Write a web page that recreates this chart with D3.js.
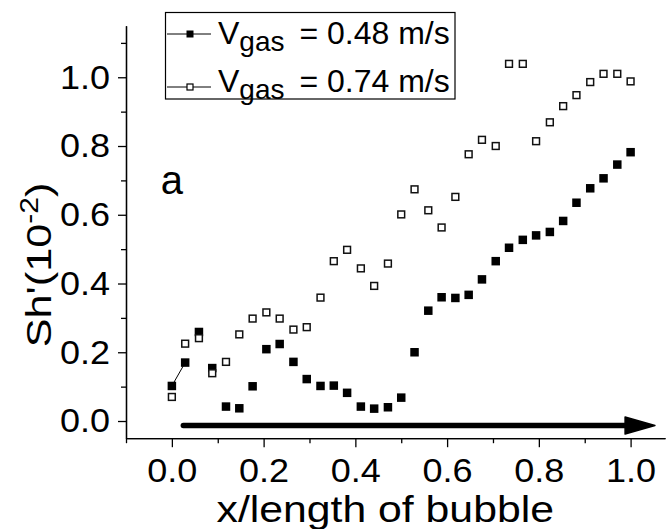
<!DOCTYPE html>
<html lang="en">
<head>
    <meta charset="UTF-8">
    <script src="https://cdn.jsdelivr.net/npm/d3@7"></script>
    <title>Sh' along the bubble</title>
    <style>
        body { margin: 0; background: #ffffff; }
        svg { display: block; background: #ffffff; }
        text { font-family: Arial, "Liberation Sans", sans-serif; fill: #000; }
        .axis path, .axis line { stroke: #000; stroke-width: 1.3px; }
    </style>
</head>
<body>
<svg width="668" height="529" viewBox="0 0 668 529"></svg>

<script>
    const WIDTH = 668;
    const HEIGHT = 529;
    const PLOT_LEFT = 126;
    const PLOT_RIGHT = 665;
    const PLOT_TOP = 25.7;
    const PLOT_BOTTOM = 438.2;

    // position along the bubble (x / length)
    const xPos = [0, 0.029, 0.059, 0.088, 0.118, 0.147, 0.176, 0.206, 0.235, 0.265,
        0.294, 0.324, 0.353, 0.382, 0.412, 0.441, 0.471, 0.5, 0.529, 0.559,
        0.588, 0.618, 0.647, 0.676, 0.706, 0.735, 0.765, 0.794, 0.824, 0.853,
        0.882, 0.912, 0.941, 0.971, 1.0];

    // Sh' (10^-2), Vgas = 0.48 m/s
    const sh048 = [0.102, 0.170, 0.259, 0.154, 0.042, 0.037, 0.101, 0.209, 0.224, 0.172,
        0.122, 0.102, 0.103, 0.082, 0.042, 0.036, 0.040, 0.068, 0.200, 0.321,
        0.360, 0.358, 0.367, 0.412, 0.465, 0.504, 0.527, 0.540, 0.550, 0.582,
        0.635, 0.677, 0.706, 0.746, 0.782];

    // Sh' (10^-2), Vgas = 0.74 m/s
    const sh074 = [0.070, 0.225, 0.241, 0.139, 0.172, 0.252, 0.298, 0.316, 0.298, 0.266,
        0.273, 0.359, 0.465, 0.498, 0.444, 0.393, 0.458, 0.601, 0.674, 0.613,
        0.563, 0.652, 0.776, 0.818, 0.800, 1.039, 1.039, 0.814, 0.869, 0.916,
        0.948, 0.986, 1.010, 1.010, 0.988];

    const xTicks = [0, 0.2, 0.4, 0.6, 0.8, 1.0];
    const xMinorTicks = [-0.1, 0.1, 0.3, 0.5, 0.7, 0.9];
    const yTicks = [0, 0.2, 0.4, 0.6, 0.8, 1.0];
    const yMinorTicks = [0.1, 0.3, 0.5, 0.7, 0.9, 1.1];

    const legendLabels = ["0.48 m/s", "0.74 m/s"];

    // arrow along the bottom: start, head base, tip (data units)
    const arrowX = [0.025, 0.988, 1.053];
    const arrowY = -0.013;

    function init() {
        const svg = d3.select("svg");
        const [x, y] = makeScales();
        drawAxes(svg, x, y);
        drawArrow(svg, x, y);
        drawPoints(svg, x, y);
        drawLegend(svg);
        drawTitles(svg, x, y);
    }

    function makeScales() {
        const x = d3.scaleLinear()
            .domain([-0.1, 1.075])
            .range([PLOT_LEFT, PLOT_RIGHT]);
        const y = d3.scaleLinear()
            .domain([-0.05, 1.15])
            .range([PLOT_BOTTOM, PLOT_TOP]);
        return [x, y];
    }

    function drawAxes(svg, x, y) {
        const fmt = d3.format(".1f");

        // minor ticks first, no labels
        svg.append("g")
            .attr("class", "axis")
            .attr("transform", `translate(0, ${PLOT_BOTTOM})`)
            .call(d3.axisBottom(x).tickValues(xMinorTicks).tickSize(5).tickSizeOuter(0).tickFormat(""));
        svg.append("g")
            .attr("class", "axis")
            .attr("transform", `translate(${PLOT_LEFT}, 0)`)
            .call(d3.axisLeft(y).tickValues(yMinorTicks).tickSize(5).tickSizeOuter(0).tickFormat(""));

        const gx = svg.append("g")
            .attr("class", "axis bottom")
            .attr("transform", `translate(0, ${PLOT_BOTTOM})`)
            .call(d3.axisBottom(x).tickValues(xTicks).tickSize(9).tickSizeOuter(0).tickFormat(fmt));
        gx.selectAll("text")
            .attr("y", 19.5)
            .attr("transform", "scale(1.06,1)")
            .style("font-size", "34px");

        const gy = svg.append("g")
            .attr("class", "axis left")
            .attr("transform", `translate(${PLOT_LEFT}, 0)`)
            .call(d3.axisLeft(y).tickValues(yTicks).tickSize(8).tickSizeOuter(0).tickFormat(fmt));
        gy.selectAll("text")
            .attr("x", -15)
            .attr("transform", "scale(1.06,1)")
            .style("font-size", "34px");
    }

    function drawArrow(svg, x, y) {
        const ay = y(arrowY);
        svg.append("line")
            .attr("x1", x(arrowX[0]))
            .attr("x2", x(arrowX[1]) + 2)
            .attr("y1", ay)
            .attr("y2", ay)
            .style("stroke", "#000")
            .style("stroke-width", 5.5)
            .style("stroke-linecap", "round");
        svg.append("path")
            .attr("d", `M${x(arrowX[1])},${ay - 8.5} L${x(arrowX[2])},${ay} L${x(arrowX[1])},${ay + 8.5} Z`)
            .style("fill", "#000")
            .style("stroke", "#000")
            .style("stroke-width", 1.5)
            .style("stroke-linejoin", "round");
    }

    function drawPoints(svg, x, y) {
        const filled = xPos.map((d, i) => ({x: d, y: sh048[i]}));
        const open = xPos.map((d, i) => ({x: d, y: sh074[i]}));

        // the one bit of connecting line visible in the original
        svg.append("path")
            .datum(filled.slice(0, 2))
            .attr("d", d3.line().x(d => x(d.x)).y(d => y(d.y)))
            .style("stroke", "#000")
            .style("stroke-width", 1)
            .style("fill", "none");

        const s1 = 8.5;
        svg.append("g").selectAll("rect")
            .data(filled)
            .enter()
            .append("rect")
            .attr("x", d => x(d.x) - s1 / 2)
            .attr("y", d => y(d.y) - s1 / 2)
            .attr("width", s1)
            .attr("height", s1)
            .style("fill", "#000");

        const s2 = 6.8;
        svg.append("g").selectAll("rect")
            .data(open)
            .enter()
            .append("rect")
            .attr("x", d => x(d.x) - s2 / 2)
            .attr("y", d => y(d.y) - s2 / 2)
            .attr("width", s2)
            .attr("height", s2)
            .style("fill", "#fff")
            .style("stroke", "#111")
            .style("stroke-width", 1.5);
    }

    function drawLegend(svg) {
        const g = svg.append("g").attr("class", "legend");
        g.append("rect")
            .attr("x", 165.5)
            .attr("y", 12.5)
            .attr("width", 289.5)
            .attr("height", 86.5)
            .style("fill", "#fff")
            .style("stroke", "#000")
            .style("stroke-width", 1.2);

        const rows = [{line: 34, base: 43.5}, {line: 87, base: 92}];
        legendLabels.forEach((label, i) => {
            const r = rows[i];
            g.append("line")
                .attr("x1", 167).attr("x2", 211)
                .attr("y1", r.line).attr("y2", r.line)
                .style("stroke", "#000")
                .style("stroke-width", 1);
            if (i === 0) {
                g.append("rect")
                    .attr("x", 186.5).attr("y", r.line - 3.5)
                    .attr("width", 7).attr("height", 7)
                    .style("fill", "#000");
            } else {
                g.append("rect")
                    .attr("x", 187).attr("y", r.line - 3)
                    .attr("width", 6).attr("height", 6)
                    .style("fill", "#fff")
                    .style("stroke", "#000")
                    .style("stroke-width", 1.2);
            }
            const t = g.append("text")
                .attr("x", 218)
                .attr("y", r.base)
                .style("font-size", "32px");
            t.append("tspan").text("V");
            t.append("tspan").attr("dy", 7).style("font-size", "28px").text("gas");
            t.append("tspan").attr("dy", -7).attr("dx", 6).text(" = " + label);
        });
    }

    function drawTitles(svg, x, y) {
        svg.append("text")
            .attr("transform", `translate(${(x(0) + x(1)) / 2 - 16}, 521.7) scale(1.155,1)`)
            .attr("text-anchor", "middle")
            .style("font-size", "37px")
            .text("x/length of bubble");

        const yt = svg.append("text")
            .attr("transform", "translate(51, 265) rotate(-90) scale(1.2,1)")
            .attr("text-anchor", "middle")
            .style("font-size", "36px");
        yt.append("tspan").text("Sh'(10");
        yt.append("tspan").attr("dy", -13).style("font-size", "25px").text("-2");
        yt.append("tspan").attr("dy", 13).text(")");

        svg.append("text")
            .attr("x", x(0))
            .attr("y", y(0.66))
            .attr("text-anchor", "middle")
            .style("font-size", "40px")
            .text("a");
    }

    init();
</script>
</body>
</html>
